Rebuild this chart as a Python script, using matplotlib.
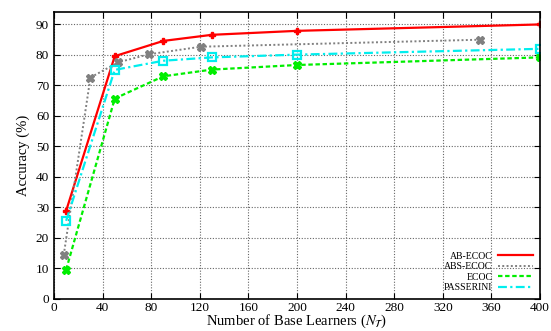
import matplotlib
matplotlib.use("Agg")
import matplotlib.pyplot as plt

plt.rcParams['font.family'] = ['Liberation Serif', 'DejaVu Serif']
plt.rcParams['mathtext.fontset'] = 'stix'

ab_x = [10, 50, 90, 130, 200, 400]
ab_y = [28.9, 79.6, 84.6, 86.6, 87.9, 90.0]
abs_x = [8, 30, 53, 78, 121, 351]
abs_y = [14.4, 72.6, 77.6, 80.2, 82.7, 85.0]
ecoc_x = [10, 50, 90, 130, 200, 400]
ecoc_y = [9.6, 65.7, 73.0, 75.2, 76.7, 79.2]
pas_x = [10, 50, 90, 130, 200, 400]
pas_y = [25.6, 75.1, 78.1, 79.2, 80.1, 82.0]

xticks = list(range(0, 401, 40))
yticks = list(range(0, 91, 10))

fig = plt.figure(figsize=(5.51, 3.31), dpi=100)
ax = fig.add_axes([0.098, 0.097, 0.882, 0.866])

ax.plot(ab_x, ab_y, color='#ff0000', lw=1.6, ls='-', marker='P', ms=5, label='AB-ECOC')
ax.plot(abs_x, abs_y, color='#808080', lw=1.4, ls=(0, (1, 1.2)), marker='X', ms=6, label='ABS-ECOC')
ax.plot(ecoc_x, ecoc_y, color='#00ee00', lw=1.6, ls=(0, (2, 1.2)), marker='X', ms=6, label='ECOC')
ax.plot(pas_x, pas_y, color='#00eeee', lw=1.6, ls=(0, (4, 1.5, 1, 1.5)), marker='s', ms=6,
        mfc='none', mew=1.6, label='PASSERINI')

ax.set_xlim(0, 400)
ax.set_ylim(0, 94)
ax.set_xticks(xticks)
ax.set_yticks(yticks)
ax.tick_params(direction='in', top=True, right=True, labelsize=9.5, length=4)
ax.tick_params(axis='x', pad=2)
ax.grid(True, color='#666666', ls=(0, (1, 1.5)), lw=0.8)
for s in ax.spines.values():
    s.set_linewidth(1.2)

ax.set_xlabel(r'Number of Base Learners ($N_{\mathcal{T}}$)', fontsize=10.5, labelpad=-1)
ax.set_ylabel('Accuracy (%)', fontsize=10.5, labelpad=4)

leg = ax.legend(loc='lower right', frameon=False, fontsize=7, markerfirst=False,
                handlelength=3.6, labelspacing=0.15, borderaxespad=0.3, handletextpad=0.6)
for h in leg.legend_handles:
    h.set_marker('')

fig.savefig('out.png', dpi=100)
